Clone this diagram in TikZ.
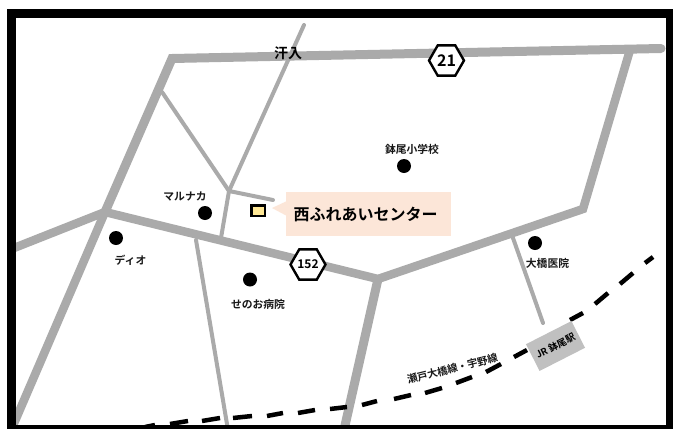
\documentclass[tikz,border=0pt]{standalone}
\usepackage{fontspec}
\setmainfont{Noto Sans CJK JP}[BoldFont={* Bold}]
\usetikzlibrary{shapes.geometric}
\definecolor{roadgray}{RGB}{170,170,170}
\definecolor{peach}{RGB}{252,230,216}
\definecolor{sta}{RGB}{192,192,192}
\definecolor{markY}{RGB}{255,232,150}
\tikzset{
 x=1pt,y=-1pt,
 road/.style={draw=roadgray,line width=#1,line cap=round,line join=miter},
 spot/.style={circle,fill=black,inner sep=0pt,minimum size=14pt},
 lbl/.style={font=\bfseries\fontsize{10.8}{12}\selectfont,inner sep=0pt,text=black!90},
 hex/.style={regular polygon,regular polygon sides=6,draw=black,fill=white,line width=2.4pt,inner sep=0pt,minimum size=35pt},
 raildash/.style={black,line width=4.5pt},
}
\begin{document}
\begin{tikzpicture}
\useasboundingbox (0,0) rectangle (673,429);
\fill[white] (0,0) rectangle (673,429);
\coordinate (a) at (172,58.5);
\coordinate (b) at (661,48.5);
\coordinate (c) at (105,212);
\coordinate (d) at (378,279);
\coordinate (e) at (583,209);
\coordinate (f) at (630,50);
\coordinate (g) at (229,191);
\begin{scope}
\clip (16,18) rectangle (666,425);
\draw[road=9pt] (c) -- (a) -- (b);
\draw[road=8.5pt] (f) -- (e) -- (d) -- (c);
\draw[road=8.5pt] (c) -- (14,248);
\draw[road=8.5pt] (c) -- (12,428);
\draw[road=9pt] (d) -- (344,430);
\draw[road=4pt] (304,25) -- (g) -- (221,238);
\draw[road=4pt] (162,92) -- (g) -- (273,200);
\draw[road=4pt] (196,240) -- (228,430);
\draw[road=4pt] (513,238) -- (543,323);
\foreach \xa/\ya/\xb/\yb in {653/257/645/263,633/273/620/284,608/293/595/304,583/313/570/320,527/350/514/357,501/364/486/372,472/377/456/383,442/388/425/393,411/395/394/399,377/401/362/405,347/407/330/409,315/410/298/413,283/413/267/416,252/416/233/418,220/418/202/421,188/421/170/424,155/425/145/427}
  \draw[raildash] (\xa,\ya) -- (\xb,\yb);
\end{scope}
\node[fill=sta,minimum width=51pt,minimum height=30pt,rotate=27,inner sep=0pt,font=\bfseries\fontsize{9.5}{11}\selectfont] (station) at (555.5,346) {JR 鉢尾駅};
\node[rotate=14,lbl,font=\bfseries\fontsize{10.3}{12}\selectfont] (line) at (452.5,368.5) {瀬戸大橋線・宇野線};
\node[hex,font=\bfseries\fontsize{16}{18}\selectfont] (r21) at (446.5,60.5) {21};
\node[hex,font=\bfseries\fontsize{12}{14}\selectfont] (r152) at (308,264.5) {152};
\node[font=\bfseries\fontsize{14}{16}\selectfont,inner sep=0pt] (kan) at (288,53) {汗入};
\fill[peach] (287,201) -- (272,208) -- (287,216) -- cycle;
\node[fill=peach,minimum width=165pt,minimum height=44pt,inner sep=0pt,font=\bfseries\fontsize{16}{18}\selectfont] (ctr) at (368.5,214) {\hspace*{-6pt}西ふれあいセンター};
\node[draw=black,fill=markY,line width=2.5pt,minimum width=13.5pt,minimum height=10.5pt,inner sep=0pt] (mk) at (258,210.5) {};
\node[spot] (s1) at (404,166) {};
\node[lbl] (t1) at (412,149) {鉢尾小学校};
\node[spot] (s2) at (205,213) {};
\node[lbl] (t2) at (185,197) {マルナカ};
\node[spot] (s3) at (116,238) {};
\node[lbl] (t3) at (130.5,260) {ディオ};
\node[spot] (s4) at (250,279.5) {};
\node[lbl] (t4) at (258,304) {せのお病院};
\node[spot] (s5) at (535,243) {};
\node[lbl] (t5) at (547.5,263) {大橋医院};
\draw[black,line width=9.5pt] (11.5,13.5) rectangle (670.7,429.7);
\end{tikzpicture}
\end{document}
